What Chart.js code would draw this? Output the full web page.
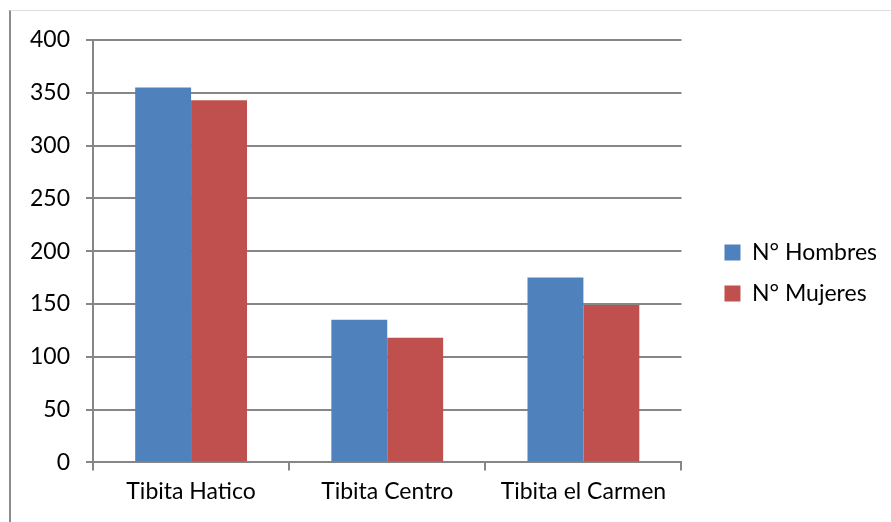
<!DOCTYPE html>
<html>
<head>
<meta charset="utf-8">
<script src="https://cdn.jsdelivr.net/npm/chart.js@4.4.0/dist/chart.umd.min.js"></script>
<style>
  body { margin: 0; background: #fff; }
  #wrap { position: relative; width: 891px; height: 522px; }
  #frame { position: absolute; left: 9px; top: 10px; right: 0; bottom: 0;
           border-left: 2px solid #8c8c8c; border-top: 1px solid #dcdcdc; }
  #grafico { position: absolute; left: 0; top: 0; }
</style>
</head>
<body>
<div id="wrap">
  <div id="frame"></div>
  <canvas id="grafico" width="891" height="522"></canvas>
</div>
<script>
  const categorias = ['Tibita Hatico', 'Tibita Centro', 'Tibita el Carmen'];
  const hombres = [355, 135, 175];
  const mujeres = [343, 118, 149];
  const ticksY = [0, 50, 100, 150, 200, 250, 300, 350, 400];

  const fuente = { family: 'Lato', size: 23, lineHeight: 1 };
  const gris = '#868686';

  // separa la leyenda del area del grafico como en el original
  const moverLeyenda = {
    id: 'moverLeyenda',
    afterLayout(chart) {
      const l = chart.legend;
      l.left += 25;
      l.right += 25;
      l.top -= 3;
      l.bottom -= 3;
    }
  };

  const ctx = document.getElementById('grafico').getContext('2d');
  new Chart(ctx, {
    type: 'bar',
    data: {
      labels: categorias,
      datasets: [{
        label: 'N° Hombres',
        data: hombres,
        backgroundColor: '#4F81BD',
        barPercentage: 1,
        categoryPercentage: 0.57
      }, {
        label: 'N° Mujeres',
        data: mujeres,
        backgroundColor: '#C0504D',
        barPercentage: 1,
        categoryPercentage: 0.57
      }]
    },
    options: {
      responsive: false,
      animation: false,
      layout: { padding: { top: 40, left: 14, right: 29, bottom: 10 } },
      plugins: {
        legend: {
          position: 'right',
          labels: {
            font: fuente,
            color: '#000',
            boxWidth: 16,
            boxHeight: 16,
            padding: 18
          }
        },
        tooltip: { enabled: false }
      },
      scales: {
        x: {
          grid: { offset: true, drawOnChartArea: false, drawTicks: true, tickLength: 8, color: gris, lineWidth: 2 },
          border: { color: gris, width: 2 },
          ticks: { font: { family: 'Lato', size: 23 }, color: '#000', padding: 7 }
        },
        y: {
          min: 0,
          max: 400,
          afterBuildTicks: axis => { axis.ticks = ticksY.map(v => ({ value: v })); },
          grid: { color: gris, lineWidth: 2, tickLength: 7 },
          border: { color: gris, width: 2 },
          ticks: { font: { family: 'Lato', size: 23 }, color: '#000', padding: 16 }
        }
      }
    },
    plugins: [moverLeyenda]
  });
</script>
</body>
</html>
